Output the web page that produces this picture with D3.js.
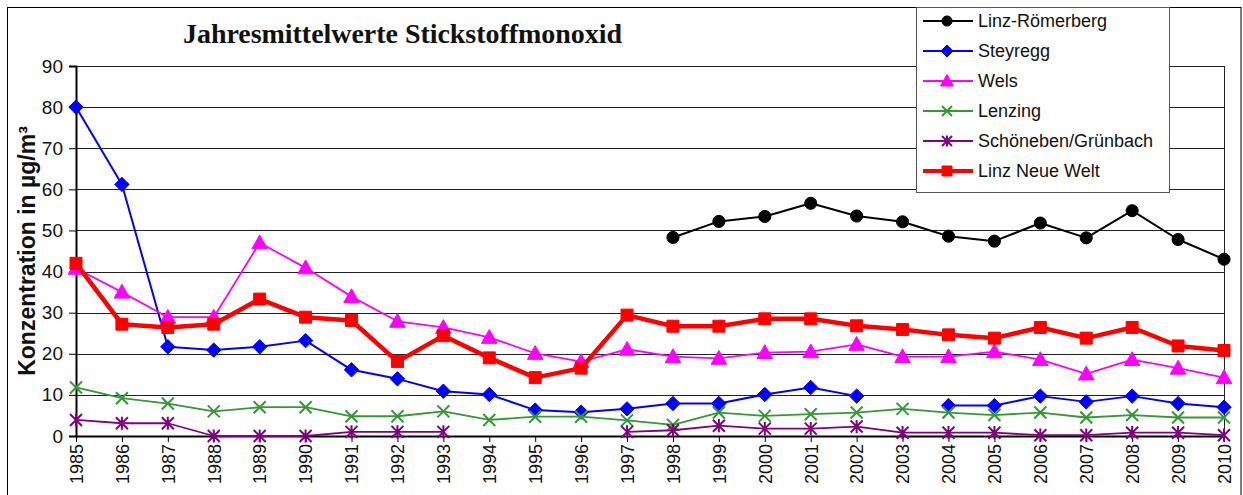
<!DOCTYPE html>
<html>
<head>
<meta charset="utf-8">
<script src="https://cdn.jsdelivr.net/npm/d3@7"></script>
<style>
  body { margin: 0; background: #fff; }
  text { font-family: Arial, "Liberation Sans", sans-serif; }
</style>
</head>
<body>
<div id="chart"></div>
<script>
// data
const years = d3.range(1985, 2011).map(String);
const yTicks = [0, 10, 20, 30, 40, 50, 60, 70, 80, 90];

const linzRoemerberg = [null, null, null, null, null, null, null, null, null, null, null, null, null,
  48.3, 52.2, 53.4, 56.6, 53.5, 52.1, 48.6, 47.4, 51.8, 48.2, 54.8, 47.8, 43.0];
const steyregg = [80.0, 61.2, 21.7, 20.9, 21.7, 23.2, 16.1, 13.9, 10.9, 10.1, 6.3, 5.8, 6.6,
  7.9, 7.9, 10.1, 11.8, 9.7, null, 7.4, 7.4, 9.7, 8.3, 9.7, 7.9, 7.0];
const wels = [40.8, 35.0, 28.9, 28.9, 47.0, 40.9, 33.9, 27.9, 26.4, 24.0, 20.1, 18.1, 21.1,
  19.3, 18.9, 20.3, 20.5, 22.3, 19.3, 19.3, 20.5, 18.6, 15.1, 18.6, 16.5, 14.2];
const lenzing = [11.8, 9.2, 7.9, 6.0, 7.0, 7.0, 4.8, 4.8, 6.0, 3.9, 4.7, 4.7, 3.8,
  2.7, 5.7, 4.9, 5.3, 5.7, 6.6, 5.7, 5.1, 5.7, 4.5, 5.1, 4.5, 4.5];
const schoeneben = [3.9, 3.1, 3.1, 0, 0, 0, 1.0, 1.0, 1.0, null, null, null, 1.0,
  1.4, 2.5, 1.8, 1.8, 2.3, 0.8, 0.8, 0.8, 0.2, 0.2, 0.8, 0.8, 0.2];
const linzNeueWelt = [42.0, 27.2, 26.4, 27.2, 33.3, 28.9, 28.1, 18.1, 24.4, 19.0, 14.2, 16.5, 29.4,
  26.7, 26.7, 28.5, 28.5, 26.8, 25.9, 24.6, 23.8, 26.4, 23.8, 26.4, 21.9, 20.8];

const seriesNames = ["Linz-Römerberg", "Steyregg", "Wels", "Lenzing", "Schöneben/Grünbach", "Linz Neue Welt"];
const seriesValues = [linzRoemerberg, steyregg, wels, lenzing, schoeneben, linzNeueWelt];

// styles per series
const colors = ["#000000", "#0000ff", "#ff00ff", "#339933", "#800080", "#ff0000"];
const widths = [2, 2, 1.8, 1.8, 1.8, 4.5];
const shapes = ["circle", "diamond", "triangle", "x", "star", "square"];

const W = 1243, H = 495;
const margin = {top: 66, right: 18, bottom: 59, left: 76};
const width = W - margin.left - margin.right,   // 1149
      height = H - margin.top - margin.bottom;  // 370

const svg = d3.select("#chart")
  .append("svg")
    .attr("width", W)
    .attr("height", H);

// outer chart frame
svg.append("rect")
  .attr("x", 7.5).attr("y", 7.5)
  .attr("width", 1241 - 7.5).attr("height", 520)
  .attr("fill", "none").attr("stroke", "#000").attr("stroke-width", 1);

const g = svg.append("g")
  .attr("transform", `translate(${margin.left},${margin.top})`);

const x = d3.scalePoint().domain(years).range([0, width - 1]);
const y = d3.scaleLinear().domain([0, 90]).range([height, 0]);

// gridlines
g.append("g")
  .selectAll("line")
  .data(yTicks.filter(d => d > 0))
  .join("line")
    .attr("x1", 0).attr("x2", width)
    .attr("y1", d => Math.round(y(d)) + 0.5).attr("y2", d => Math.round(y(d)) + 0.5)
    .attr("stroke", "#222").attr("stroke-width", 1);

// right frame of plot area
g.append("line")
  .attr("x1", width - 0.5).attr("x2", width - 0.5)
  .attr("y1", 0).attr("y2", height)
  .attr("stroke", "#222");

// y axis
const yAxis = g.append("g")
  .call(d3.axisLeft(y).tickValues(yTicks).tickSize(7).tickPadding(6));
yAxis.select(".domain").attr("stroke", "#000").attr("stroke-width", 2);
yAxis.selectAll(".tick line").attr("stroke", "#000");
yAxis.selectAll("text").attr("font-size", 19).attr("font-family", "Arial, 'Liberation Sans', sans-serif").attr("fill", "#111");

// x axis
const xAxis = g.append("g")
  .attr("transform", `translate(0,${height})`)
  .call(d3.axisBottom(x).tickSize(6).tickSizeOuter(0));
xAxis.select(".domain").attr("stroke", "#000").attr("stroke-width", 2);
xAxis.selectAll(".tick line").attr("stroke", "#000");
xAxis.selectAll("text")
  .attr("font-size", 18)
  .attr("font-family", "Arial, 'Liberation Sans', sans-serif")
  .attr("fill", "#111")
  .attr("transform", "rotate(-90)")
  .attr("text-anchor", "end")
  .attr("x", -8).attr("y", 0).attr("dy", "0.35em");

// marker symbols
function markerPath(shape, s) {
  if (shape === "circle") return d3.symbol(d3.symbolCircle, s * s * 0.8)();
  if (shape === "diamond") return `M0,${-s * 0.6}L${s * 0.6},0L0,${s * 0.6}L${-s * 0.6},0Z`;
  if (shape === "triangle") return `M0,${-s * 0.65}L${s * 0.65},${s * 0.5}L${-s * 0.65},${s * 0.5}Z`;
  if (shape === "square") return `M${-s / 2},${-s / 2}h${s}v${s}h${-s}Z`;
  const h = s / 2;
  if (shape === "x") return `M${-h},${-h}L${h},${h}M${-h},${h}L${h},${-h}`;
  // asterisk
  return `M${-h},${-h}L${h},${h}M${-h},${h}L${h},${-h}M0,${-h * 1.1}L0,${h * 1.1}`;
}
const isStroked = s => s === "x" || s === "star";

// series lines
seriesValues.forEach((vals, i) => {
  const pts = vals.map((v, j) => ({year: years[j], v: v}));
  const line = d3.line()
    .defined(d => d.v != null)
    .x(d => x(d.year))
    .y(d => y(d.v));
  g.append("path")
    .datum(pts)
    .attr("fill", "none")
    .attr("stroke", colors[i])
    .attr("stroke-width", widths[i])
    .attr("stroke-linejoin", "round")
    .attr("d", line);

  g.append("g")
    .selectAll("path")
    .data(pts.filter(d => d.v != null))
    .join("path")
      .attr("transform", d => `translate(${x(d.year)},${y(d.v)})`)
      .attr("d", markerPath(shapes[i], 12))
      .attr("fill", isStroked(shapes[i]) ? "none" : colors[i])
      .attr("stroke", colors[i])
      .attr("stroke-width", isStroked(shapes[i]) ? 2 : 1);
});

// title
svg.append("text")
  .attr("x", 183).attr("y", 43)
  .style("font-family", "'Liberation Serif', 'Times New Roman', serif")
  .attr("font-weight", "bold")
  .attr("font-size", 28)
  .attr("textLength", 439)
  .attr("fill", "#111")
  .text("Jahresmittelwerte Stickstoffmonoxid");

// y axis title
svg.append("text")
  .attr("transform", `translate(35,251) rotate(-90)`)
  .attr("text-anchor", "middle")
  .attr("font-size", 23)
  .attr("font-weight", "bold")
  .attr("fill", "#111")
  .text("Konzentration in µg/m³");

// legend
const legend = svg.append("g").attr("transform", "translate(916,7)");
legend.append("rect")
  .attr("x", 0.5).attr("y", 0.5)
  .attr("width", 253).attr("height", 185)
  .attr("fill", "#fff").attr("stroke", "#555").attr("stroke-width", 1);

const rows = legend.selectAll(".row")
  .data(seriesNames)
  .join("g")
    .attr("class", "row")
    .attr("transform", (d, i) => `translate(0,${14 + i * 30})`);
rows.append("line")
  .attr("x1", 7).attr("x2", 57)
  .attr("stroke", (d, i) => colors[i])
  .attr("stroke-width", (d, i) => Math.min(widths[i], 4));
rows.append("path")
  .attr("transform", "translate(31,0)")
  .attr("d", (d, i) => markerPath(shapes[i], 10))
  .attr("fill", (d, i) => isStroked(shapes[i]) ? "none" : colors[i])
  .attr("stroke", (d, i) => colors[i])
  .attr("stroke-width", (d, i) => isStroked(shapes[i]) ? 2 : 1);
rows.append("text")
  .attr("x", 62).attr("dy", "0.35em")
  .attr("font-size", 18)
  .attr("fill", "#111")
  .text(d => d);
</script>
</body>
</html>
